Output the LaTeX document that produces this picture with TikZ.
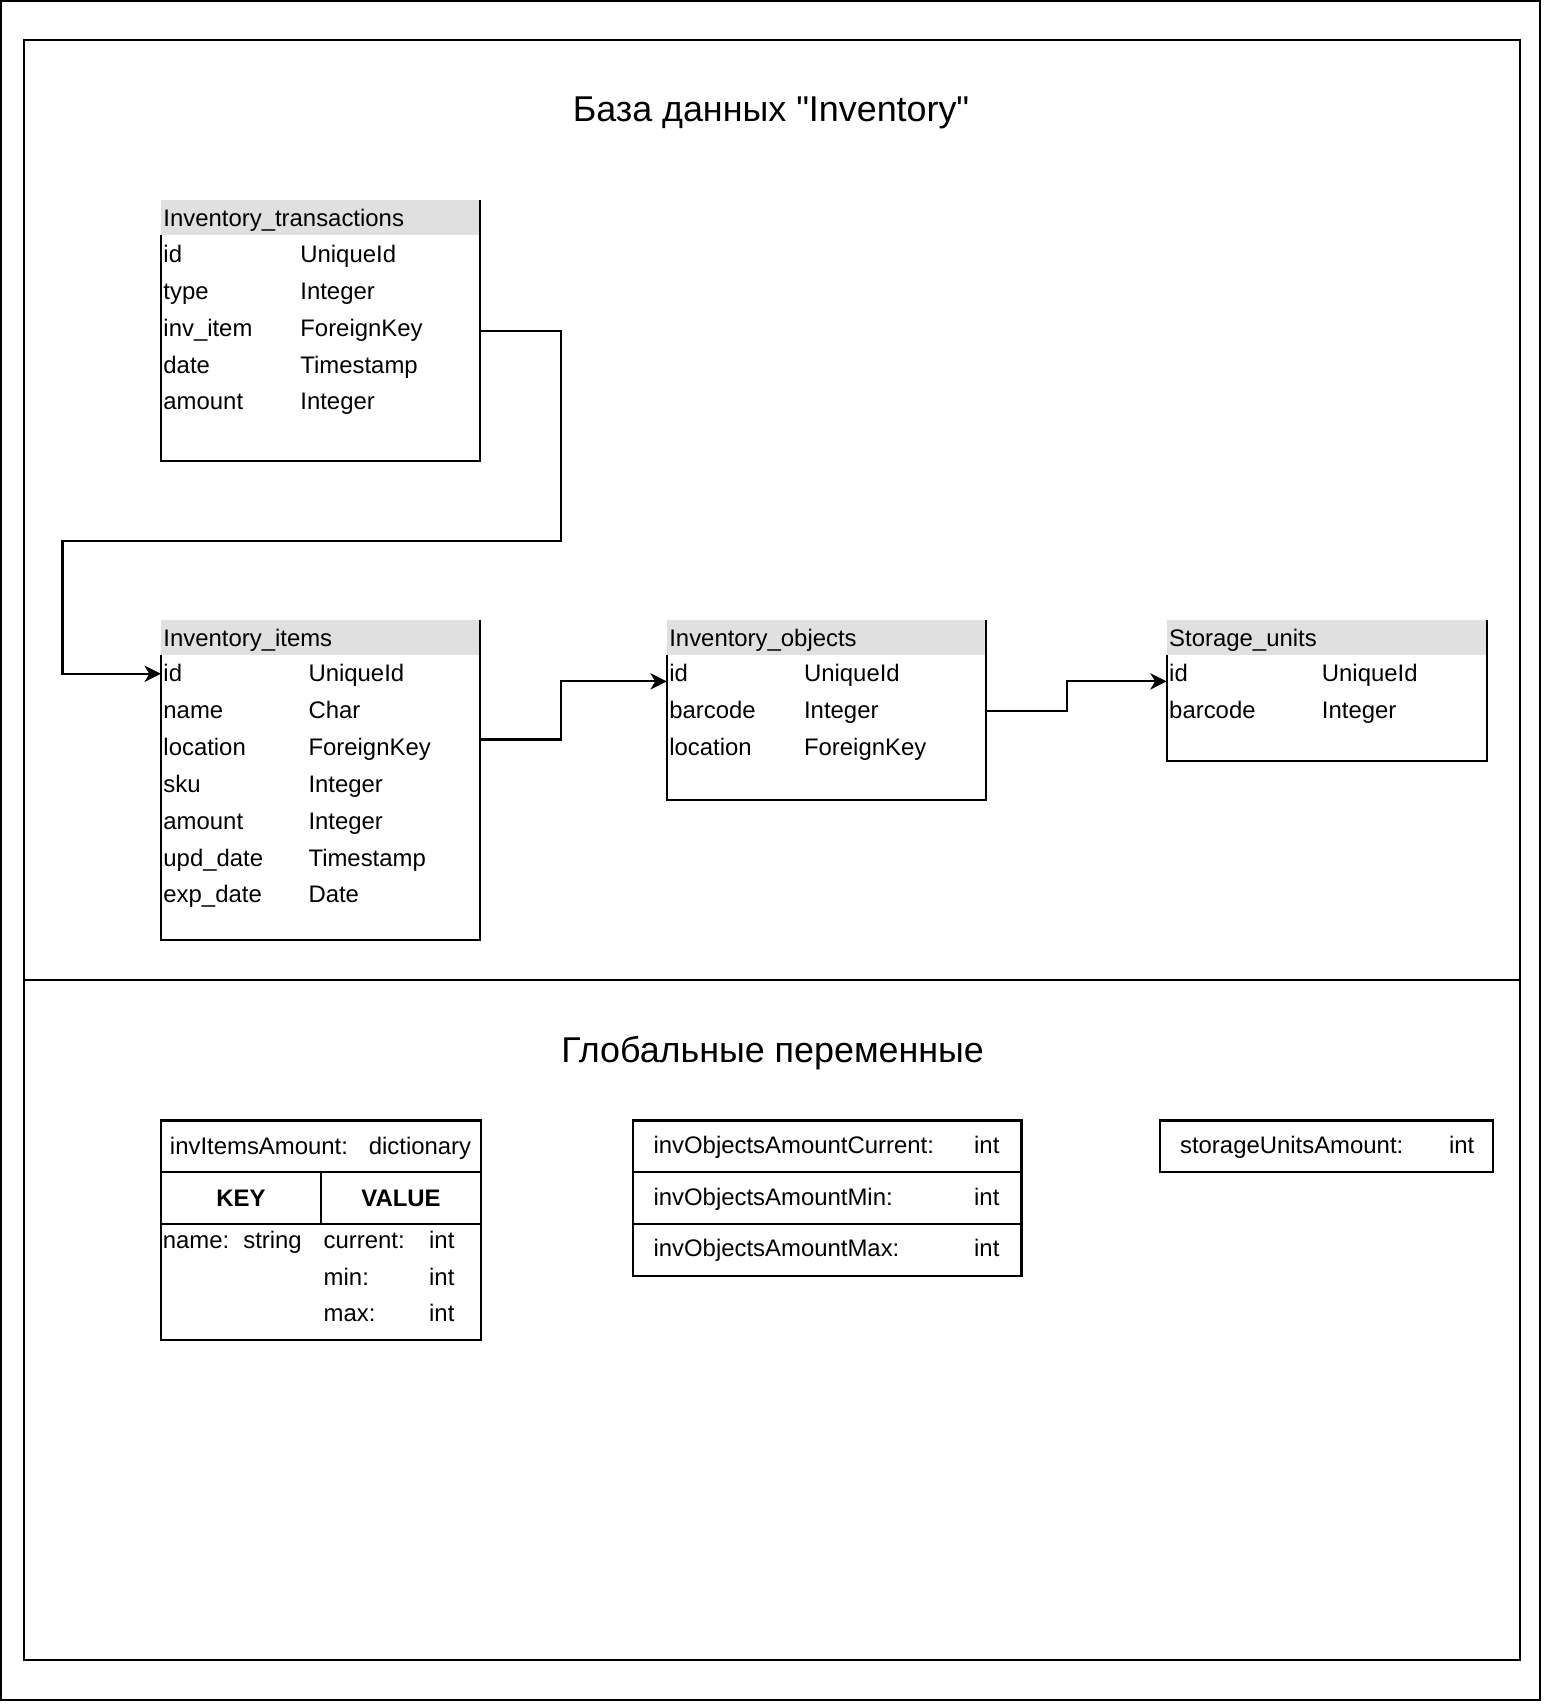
\documentclass[tikz,border=0pt]{standalone}
\usepackage{fontspec}
\setmainfont{Liberation Sans}[Ligatures=TeXOff]
\usetikzlibrary{arrows.meta,fit}
\definecolor{hdrgray}{HTML}{E0E0E0}
\tikzset{
  lbl/.style={anchor=base west, inner sep=0pt, font=\fontsize{11pt}{13pt}\selectfont},
  boldlbl/.style={anchor=base, inner sep=0pt, font=\fontsize{11pt}{13pt}\selectfont\bfseries},
  ttl/.style={anchor=base, inner sep=0pt, font=\fontsize{16.5pt}{20pt}\selectfont},
  cellbox/.style={inner sep=0pt, outer sep=0pt, draw=none},
  hdrbox/.style={inner sep=0pt, outer sep=0pt, draw=none, fill=hdrgray},
  framebox/.style={inner sep=0pt, outer sep=0pt, draw, line width=1pt},
  outline/.style={line width=1pt},
  conn/.style={line width=1pt, -{Stealth[length=7.5pt,width=7.5pt,inset=2.2pt]}},
}
\begin{document}
\begin{tikzpicture}[x=0.5pt,y=-0.5pt]
\useasboundingbox (0,0) rectangle (1420,1568);

% frames
\node[framebox, fit={(1,1) (1417,1564)}] (outer) {};
\node[framebox, fit={(22,37) (1398.5,902)}] (dbframe) {};
\node[framebox, fit={(22,902) (1398.5,1527.5)}] (gvframe) {};

% titles
\node[ttl] (t1) at (709.5,112) {База данных "Inventory"};
\node[ttl] (t2) at (711,978) {Глобальные переменные};

% ---------- Inventory_transactions ----------
\node[hdrbox, fit={(148,184) (442,216)}] (trh) {};
\node[cellbox, fit={(148,216) (442,424)}] (tr) {};
\draw[outline] (trh.north east) -- (tr.south east) -- (tr.south west) -- (tr.north west);
\node[lbl] (trt) at (150,208) {Inventory\_transactions};
\node[lbl] (tr1a) at (150,242) {id};        \node[lbl] (tr1b) at (276,242) {UniqueId};
\node[lbl] (tr2a) at (150,276) {type};      \node[lbl] (tr2b) at (276,276) {Integer};
\node[lbl] (tr3a) at (150,310) {inv\_item}; \node[lbl] (tr3b) at (276,310) {ForeignKey};
\node[lbl] (tr4a) at (150,343.5) {date};    \node[lbl] (tr4b) at (276,343.5) {Timestamp};
\node[lbl] (tr5a) at (150,377) {amount};    \node[lbl] (tr5b) at (276,377) {Integer};

% ---------- Inventory_items ----------
\node[hdrbox, fit={(148,570.5) (442,603)}] (ith) {};
\node[cellbox, fit={(148,603) (442,865)}] (it) {};
\draw[outline] (ith.north east) -- (it.south east) -- (it.south west) -- (it.north west);
\node[lbl] (itt) at (150,594.5) {Inventory\_items};
\node[lbl] (it1a) at (150,627) {id};          \node[lbl] (it1b) at (283.5,627) {UniqueId};
\node[lbl] (it2a) at (150,661.5) {name};      \node[lbl] (it2b) at (283.5,661.5) {Char};
\node[lbl] (it3a) at (150,695.5) {location};  \node[lbl] (it3b) at (283.5,695.5) {ForeignKey};
\node[lbl] (it4a) at (150,729.5) {sku};       \node[lbl] (it4b) at (283.5,729.5) {Integer};
\node[lbl] (it5a) at (150,763) {amount};      \node[lbl] (it5b) at (283.5,763) {Integer};
\node[lbl] (it6a) at (150,797) {upd\_date};   \node[lbl] (it6b) at (283.5,797) {Timestamp};
\node[lbl] (it7a) at (150,830.5) {exp\_date}; \node[lbl] (it7b) at (283.5,830.5) {Date};

% ---------- Inventory_objects ----------
\node[hdrbox, fit={(613.5,570.5) (907.5,603)}] (obh) {};
\node[cellbox, fit={(613.5,603) (907.5,736.5)}] (ob) {};
\draw[outline] (obh.north east) -- (ob.south east) -- (ob.south west) -- (ob.north west);
\node[lbl] (obt) at (615.5,594.5) {Inventory\_objects};
\node[lbl] (ob1a) at (615.5,627) {id};         \node[lbl] (ob1b) at (739.5,627) {UniqueId};
\node[lbl] (ob2a) at (615.5,661.5) {barcode};  \node[lbl] (ob2b) at (739.5,661.5) {Integer};
\node[lbl] (ob3a) at (615.5,695.5) {location}; \node[lbl] (ob3b) at (739.5,695.5) {ForeignKey};

% ---------- Storage_units ----------
\node[hdrbox, fit={(1073.5,570.5) (1368,603)}] (suh) {};
\node[cellbox, fit={(1073.5,603) (1368,700.5)}] (su) {};
\draw[outline] (suh.north east) -- (su.south east) -- (su.south west) -- (su.north west);
\node[lbl] (sut) at (1075.5,594.5) {Storage\_units};
\node[lbl] (su1a) at (1075.5,627) {id};        \node[lbl] (su1b) at (1216,627) {UniqueId};
\node[lbl] (su2a) at (1075.5,661.5) {barcode}; \node[lbl] (su2b) at (1216,661.5) {Integer};

% ---------- connectors ----------
\draw[conn] (tr.east |- 0,304.5) -| (516,497.5) -| (57.5,620) -- (it.west |- 0,620);
\draw[conn] (it.east |- 0,680.5) -| (516,627) -- (ob.west |- 0,627);
\draw[conn] (ob.east |- 0,654) -| (982,627) -- (su.west |- 0,627);

% ---------- invItemsAmount ----------
\node[framebox, fit={(148,1031) (442.5,1078.5)}] (gv1a) {};
\node[framebox, fit={(148,1078.5) (295.5,1126.5)}] (gv1k) {};
\node[framebox, fit={(295.5,1078.5) (442.5,1126.5)}] (gv1v) {};
\node[framebox, fit={(148,1126.5) (442.5,1233)}] (gv1b) {};
\node[lbl] (gv1t1) at (156,1062.3) {invItemsAmount:};
\node[lbl] (gv1t2) at (339,1062.3) {dictionary};
\node[boldlbl] (gvkey) at (gv1k.center |- 0,1110) {KEY};
\node[boldlbl] (gvval) at (gv1v.center |- 0,1110) {VALUE};
\node[lbl] (gvn1) at (149.5,1149) {name:};
\node[lbl] (gvn2) at (223.5,1149) {string};
\node[lbl] (gvc1) at (297.5,1149) {current:};   \node[lbl] (gvc2) at (394.5,1149) {int};
\node[lbl] (gvm1) at (297.5,1182.8) {min:};     \node[lbl] (gvm2) at (394.5,1182.8) {int};
\node[lbl] (gvx1) at (297.5,1215.6) {max:};     \node[lbl] (gvx2) at (394.5,1215.6) {int};

% ---------- invObjectsAmount ----------
\node[framebox, fit={(582.5,1031) (940,1078.5)}] (gv2a) {};
\node[framebox, fit={(582.5,1078.5) (940,1126.5)}] (gv2b) {};
\node[framebox, fit={(582.5,1126.5) (940,1174.5)}] (gv2c) {};
\node[lbl] (gv2a1) at (601,1061) {invObjectsAmountCurrent:}; \node[lbl] (gv2a2) at (896,1061) {int};
\node[lbl] (gv2b1) at (601,1109.5) {invObjectsAmountMin:};   \node[lbl] (gv2b2) at (896,1109.5) {int};
\node[lbl] (gv2c1) at (601,1156) {invObjectsAmountMax:};     \node[lbl] (gv2c2) at (896,1156) {int};

% ---------- storageUnitsAmount ----------
\node[framebox, fit={(1067.5,1031) (1373.5,1078.5)}] (gv3) {};
\node[lbl] (gv3a) at (1085.5,1061.5) {storageUnitsAmount:};
\node[lbl] (gv3b) at (1333,1061.5) {int};
\end{tikzpicture}
\end{document}
